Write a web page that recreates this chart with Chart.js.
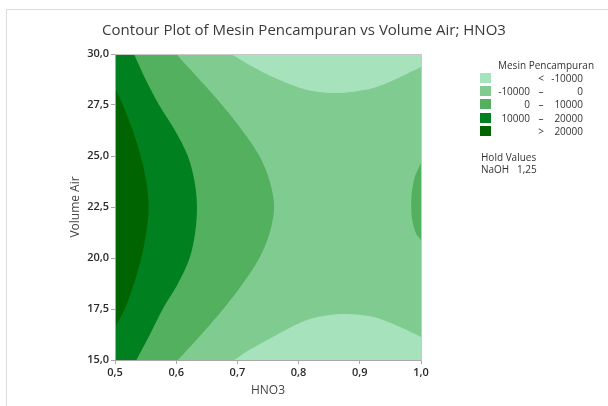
<!DOCTYPE html>
<html>
<head>
<meta charset="utf-8">
<script src="https://cdn.jsdelivr.net/npm/chart.js@4.4.1/dist/chart.umd.min.js"></script>
<style>
  body { margin:0; background:#fff; font-family:'Open Sans', sans-serif; }
  #wrap { position:relative; width:608px; height:406px; overflow:hidden; }
  #frame { position:absolute; left:6px; top:9px; width:610px; height:410px; border-top:1px solid #dcdcdc; border-left:1px solid #dcdcdc; }
  #chart { position:absolute; left:0; top:0; }
  .lg { position:absolute; font-size:10px; color:#333; white-space:nowrap; line-height:12px; }
  .sw { position:absolute; width:11px; height:10px; }
</style>
</head>
<body>
<div id="wrap">
  <div id="frame"></div>
  <canvas id="chart" width="608" height="406"></canvas>
  <div id="legend"></div>
</div>
<script>
/* ── Ejes ── */
const hno3Min = 0.5, hno3Max = 1.0, hno3Step = 0.1;
const volMin = 15, volMax = 30, volStep = 2.5;

/* ── Niveles de contorno (claro -> oscuro) ── */
const levelColors = ['#a6e3bc', '#80cc90', '#52b05e', '#00801e', '#006400'];
const levelLow  = ['', '-10000', '0', '10000', ''];
const levelSym  = ['<', '\u2013', '\u2013', '\u2013', '>'];
const levelHigh = ['-10000', '0', '10000', '20000', '20000'];

/* ── Curvas de contorno (HNO3, Volume Air) ── */
// > 20000, contra el borde izquierdo
const c20X = [0.500, 0.513, 0.529, 0.542, 0.551, 0.555, 0.551, 0.543, 0.531, 0.516, 0.500];
const c20Y = [28.35, 27.50, 26.25, 25.00, 23.75, 22.50, 21.25, 20.00, 18.75, 17.50, 16.60];
// = 10000
const c10Y = [30.00, 28.75, 27.50, 26.25, 25.00, 23.75, 22.50, 21.25, 20.00, 18.75, 17.50, 16.25, 15.00];
const c10X = [0.531, 0.550, 0.572, 0.598, 0.619, 0.630, 0.634, 0.631, 0.622, 0.603, 0.578, 0.557, 0.535];
// = 0 (izquierda)
const c0Y = [30.00, 28.75, 27.50, 26.25, 25.00, 23.75, 22.50, 21.25, 20.00, 18.75, 17.50, 16.25, 15.00];
const c0X = [0.600, 0.638, 0.675, 0.708, 0.736, 0.753, 0.760, 0.753, 0.736, 0.709, 0.677, 0.641, 0.603];
// = 0 (derecha, pequeño lóbulo)
const c0rX = [1.000, 0.990, 0.985, 0.984, 0.986, 0.992, 1.000];
const c0rY = [24.66, 24.00, 23.20, 22.50, 21.80, 21.20, 20.88];
// = -10000 arriba
const cTopX = [0.690, 0.715, 0.758, 0.814, 0.868, 0.922, 0.966, 1.000];
const cTopY = [30.00, 29.55, 28.87, 28.24, 28.09, 28.33, 28.87, 29.36];
// = -10000 abajo
const cBotX = [0.695, 0.720, 0.758, 0.814, 0.868, 0.922, 0.966, 1.000];
const cBotY = [15.00, 15.50, 16.13, 16.96, 17.25, 17.11, 16.62, 16.13];

const holdName = 'NaOH', holdValue = '1,25';

/* ── Helpers ── */
function pts(xs, ys){ return xs.map(function(x, i){ return {x:x, y:ys[i]}; }); }
function fmt(v){ return v.toFixed(1).replace('.', ','); }
function band(data, color, fillTo, tension){
  return { data:data, showLine:true, fill:fillTo, backgroundColor:color,
           borderColor:'rgba(0,0,0,0)', borderWidth:0, pointRadius:0,
           tension: tension == null ? 0.3 : tension, capBezierPoints:false };
}
// región cerrada contra un borde vertical (x = edgeX, fuera del área):
// la curva se prolonga un paso fuera del área para que la tangente en el borde sea suave
function sideShape(xs, ys, edgeX, color){
  const p = pts(xs, ys), n = p.length;
  const pre  = { x: 2*p[0].x - p[1].x, y: 2*p[0].y - p[1].y };
  const post = { x: 2*p[n-1].x - p[n-2].x, y: 2*p[n-1].y - p[n-2].y };
  const data = [{x:edgeX, y:pre.y}, pre].concat(p, [post, {x:edgeX, y:post.y}]);
  return band(data, color, 'shape');
}

// orden de dibujo: fondo primero, regiones más oscuras al final
const regions = [
  band([{x:hno3Min,y:volMin},{x:hno3Max,y:volMin},{x:hno3Max,y:volMax},{x:hno3Min,y:volMax}], levelColors[1], 'shape', 0),
  band(pts(cTopX, cTopY), levelColors[0], 'end'),
  band(pts(cBotX, cBotY), levelColors[0], 'start'),
  sideShape(c0rX, c0rY, hno3Max + 0.1, levelColors[2]),
  sideShape(c0X, c0Y, hno3Min - 0.1, levelColors[2]),
  sideShape(c10X, c10Y, hno3Min - 0.1, levelColors[3]),
  sideShape(c20X, c20Y, hno3Min - 0.1, levelColors[4])
];
regions.forEach(function(d, i){ d.order = regions.length - i; });

const axisGray = '#a8a8a8';
const tickFont = { family:"'Open Sans', sans-serif", size:11, weight:'600' };

new Chart(document.getElementById('chart'), {
  type:'scatter',
  data:{ datasets: regions },
  options:{
    responsive:false, animation:false, events:[],
    layout:{ padding:0 },
    plugins:{
      legend:{ display:false }, tooltip:{ enabled:false },
      title:{ display:true, text:'Contour Plot of Mesin Pencampuran vs Volume Air; HNO3',
              color:'#3a3a3a', font:{ family:"'Open Sans', sans-serif", size:15, weight:'normal' },
              padding:{ top:22, bottom:14 } }
    },
    scales:{
      x:{ type:'linear', position:'bottom', min:hno3Min, max:hno3Max,
          ticks:{ stepSize:hno3Step, color:'#2a2a2a', font:tickFont, padding:2, maxRotation:0, callback:fmt },
          grid:{ drawOnChartArea:false, tickLength:4, color:axisGray },
          border:{ color:axisGray, z:1 },
          title:{ display:true, text:'HNO3', color:'#444', font:{ family:"'Open Sans', sans-serif", size:12 }, padding:{ top:0, bottom:8 } },
          afterFit:function(s){ s.height = 46; } },
      y:{ type:'linear', position:'left', min:volMin, max:volMax,
          ticks:{ stepSize:volStep, color:'#2a2a2a', font:tickFont, padding:2, callback:fmt },
          grid:{ drawOnChartArea:false, tickLength:4, color:axisGray },
          border:{ color:axisGray, z:1 },
          title:{ display:true, text:'Volume Air', color:'#444', font:{ family:"'Open Sans', sans-serif", size:12 }, padding:{ top:68, bottom:0 } },
          afterFit:function(s){ s.width = 115; } },
      xTop:{ type:'linear', position:'top', min:hno3Min, max:hno3Max,
             ticks:{ display:false }, grid:{ display:false }, border:{ color:'#c8c8c8', z:1 },
             afterFit:function(s){ s.height = 0; } },
      yRight:{ type:'linear', position:'right', min:volMin, max:volMax,
               ticks:{ display:false }, grid:{ display:false }, border:{ color:'#c8c8c8', z:1 },
               afterFit:function(s){ s.width = 187; } }
    }
  }
});

/* ── Leyenda (HTML) ── */
(function(){
  const lg = document.getElementById('legend');
  let html = '<div class="lg" style="left:498px;top:59px">Mesin Pencampuran</div>';
  levelColors.forEach(function(c, i){
    const cy = 78 + i * 13.2;
    html += '<div class="sw" style="left:480px;top:' + (cy - 5) + 'px;background:' + c + '"></div>';
    html += '<div class="lg" style="left:490px;width:40px;text-align:right;top:' + (cy - 6) + 'px">' + levelLow[i] + '</div>';
    html += '<div class="lg" style="left:535px;width:12px;text-align:center;top:' + (cy - 6) + 'px">' + levelSym[i] + '</div>';
    html += '<div class="lg" style="left:545px;width:38px;text-align:right;top:' + (cy - 6) + 'px">' + levelHigh[i] + '</div>';
  });
  html += '<div class="lg" style="left:481px;top:151px">Hold Values</div>';
  html += '<div class="lg" style="left:481px;top:163px">' + holdName + '</div>';
  html += '<div class="lg" style="left:517px;top:163px">' + holdValue + '</div>';
  lg.innerHTML = html;
})();
</script>
</body>
</html>
